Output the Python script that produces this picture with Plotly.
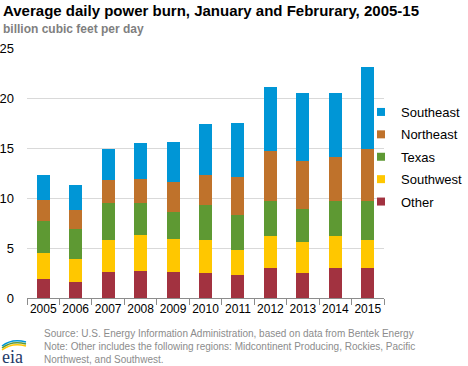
import plotly.graph_objects as go

years = ["2005", "2006", "2007", "2008", "2009", "2010", "2011", "2012", "2013", "2014", "2015"]
other = [1.93, 1.63, 2.63, 2.73, 2.63, 2.53, 2.33, 3.03, 2.53, 3.03, 3.03]
southwest = [2.6, 2.3, 3.2, 3.6, 3.3, 3.3, 2.5, 3.2, 3.1, 3.2, 2.8]
texas = [3.2, 2.94, 3.64, 3.14, 2.7, 3.5, 3.44, 3.5, 3.3, 3.5, 3.9]
northeast = [2.1, 1.96, 2.36, 2.46, 3.0, 3.0, 3.86, 4.94, 4.8, 4.4, 5.2]
southeast = [2.5, 2.5, 3.1, 3.6, 4.0, 5.1, 5.4, 6.46, 6.8, 6.4, 8.2]

series = [
    ("Other", other, "#A23240"),
    ("Southwest", southwest, "#FFC700"),
    ("Texas", texas, "#5E9933"),
    ("Northeast", northeast, "#BF722B"),
    ("Southeast", southeast, "#0096D6"),
]

W, H = 468, 366
L, R, T, B = 27, 84, 48, 68
PW, PH = W - L - R, H - T - B


def px(x):
    return (x - L) / PW


def py(y):
    return (H - B - y) / PH


fig = go.Figure()
for name, vals, color in series:
    fig.add_trace(go.Bar(x=years, y=vals, name=name, marker=dict(color=color, line=dict(width=0)),
                         width=0.4, legendgroup=name, showlegend=False))
# legend entries (small square swatches), top to bottom: Southeast ... Other
for rank, (name, vals, color) in enumerate(reversed(series)):
    fig.add_trace(go.Scatter(x=[None], y=[None], mode="markers", name=name, legendgroup=name,
                             legendrank=rank + 1, showlegend=True,
                             marker=dict(symbol="square", size=8, color=color)))

fig.update_layout(
    width=W, height=H,
    margin=dict(l=L, r=R, t=T, b=B, autoexpand=False),
    barmode="stack",
    plot_bgcolor="white", paper_bgcolor="white",
    font=dict(family="Liberation Sans, Arial, sans-serif", size=13, color="#000000"),
    showlegend=True,
    legend=dict(traceorder="grouped", x=px(468), y=py(97), xanchor="right", yanchor="top",
                font=dict(size=13, color="#000000"), tracegroupgap=2.5, itemwidth=30,
                bgcolor="rgba(0,0,0,0)"),
    xaxis=dict(showgrid=False, showline=True, linecolor="#8C8C8C", linewidth=1,
               ticks="outside", tickson="boundaries", tickcolor="#8C8C8C", ticklen=6,
               tickfont=dict(size=12), tickangle=0, automargin=False, range=[-0.5, 10.5]),
    yaxis=dict(range=[0, 25], tickvals=[0, 5, 10, 15, 20, 25], showgrid=True, gridcolor="#D9D9D9",
               gridwidth=1, zeroline=False, showline=False, ticks="", tickfont=dict(size=13),
               ticklabelstandoff=12, automargin=False),
)

fig.add_annotation(text="<b>Average daily power burn, January and Februrary, 2005-15</b>",
                   xref="paper", yref="paper", x=px(1), y=py(10), xanchor="left", yanchor="middle",
                   showarrow=False, font=dict(size=15, color="#000000"))
fig.add_annotation(text="<b>billion cubic feet per day</b>",
                   xref="paper", yref="paper", x=px(1), y=py(29), xanchor="left", yanchor="middle",
                   showarrow=False, font=dict(size=12, color="#7F7F7F"))
fig.add_annotation(text="Source: U.S. Energy Information Administration, based on data from Bentek Energy<br>"
                        "Note: Other includes the following regions: Midcontinent Producing, Rockies, Pacific<br>"
                        "Northwest, and Southwest.",
                   xref="paper", yref="paper", x=px(42), y=py(326), xanchor="left", yanchor="top",
                   align="left", showarrow=False, font=dict(size=10, color="#8C8C8C"))
# eia logo
fig.add_annotation(text="eia", xref="paper", yref="paper", x=px(0), y=py(357), xanchor="left",
                   yanchor="middle", showarrow=False,
                   font=dict(family="Liberation Serif, serif", size=18, color="#1F3A68"))
for i, c in enumerate(["#FFC700", "#5E9933", "#0096D6"]):
    y0 = 350 - i * 2
    fig.add_shape(type="path", xref="paper", yref="paper",
                  path=f"M {px(2)},{py(y0)} Q {px(12)},{py(y0 - 8)} {px(26)},{py(y0 - 4)}",
                  line=dict(color=c, width=1.5))

fig.write_html("out.html", config={"displayModeBar": False},
               post_script="document.body.style.margin='0';")
